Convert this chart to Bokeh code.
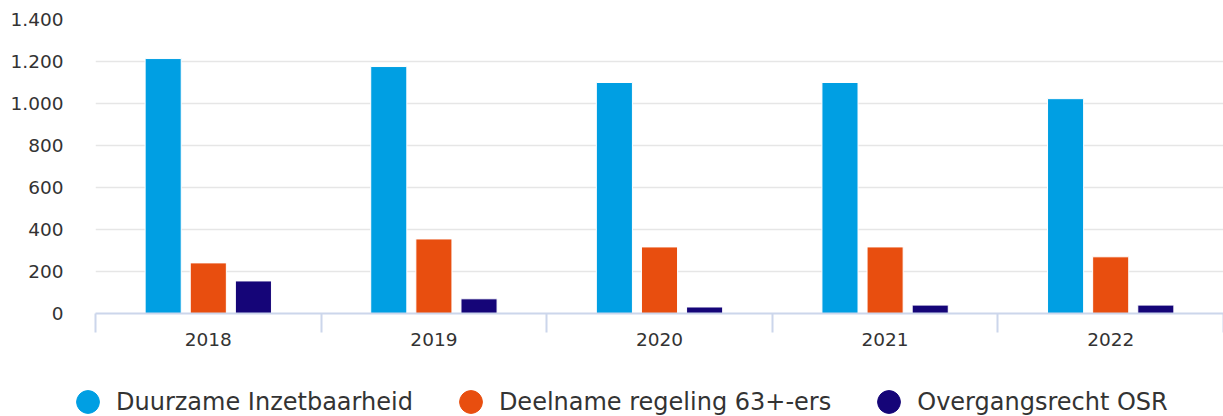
from bokeh.plotting import figure
from bokeh.layouts import column
from bokeh.models import ColumnDataSource, FixedTicker, Legend, LegendItem, Range1d
from bokeh.embed import file_html
from bokeh.resources import INLINE

# ---- data ----
years = ["2018", "2019", "2020", "2021", "2022"]
series_names = ["Duurzame Inzetbaarheid", "Deelname regeling 63+-ers", "Overgangsrecht OSR"]
duurzame = [1214, 1176, 1100, 1100, 1023]
deelname = [241, 355, 317, 317, 270]
overgangsrecht = [155, 70, 31, 40, 40]
colors = ["#009FE3", "#E84E0F", "#150578"]
y_ticks = [0, 200, 400, 600, 800, 1000, 1200, 1400]
y_tick_labels = ["0", "200", "400", "600", "800", "1.000", "1.200", "1.400"]

FONT = "DejaVu Sans"
TEXT = "#333333"

p = figure(width=1223, height=360, output_backend="svg", toolbar_location=None,
           x_range=Range1d(0, len(years)), y_range=Range1d(0, 1400),
           min_border_left=95, min_border_right=0, min_border_top=19, min_border_bottom=47)
p.outline_line_color = None
p.background_fill_color = "white"
p.frame_align = False

# legend-only figure below the chart (no axes); its points lie outside its range
lf = figure(width=1223, height=56, output_backend="svg", toolbar_location=None,
            x_range=Range1d(-10, -9), y_range=Range1d(-10, -9),
            x_axis_location=None, y_axis_location=None,
            min_border_left=0, min_border_right=0, min_border_top=0, min_border_bottom=0)
lf.outline_line_color = None
lf.grid.visible = False
lf.frame_align = False

centers = [i + 0.5 for i in range(len(years))]
offsets = [-0.2, 0.0, 0.2]
items = []
for vals, off, col, name in zip([duurzame, deelname, overgangsrecht], offsets, colors, series_names):
    src = ColumnDataSource(dict(x=[c + off for c in centers], top=vals))
    p.vbar(x="x", top="top", width=0.16, source=src, fill_color=col,
           line_color="white", line_width=1)
    dummy = lf.scatter(x="x", y="top", source=src, marker="circle",
                       fill_color=col, line_color=col)
    items.append(LegendItem(label=name, renderers=[dummy]))

# x axis
xa = p.xaxis[0]
xa.ticker = FixedTicker(ticks=centers, minor_ticks=list(range(len(years) + 1)))
xa.major_label_overrides = {c: y for c, y in zip(centers, years)}
xa.major_tick_line_color = None
xa.major_tick_out = 0
xa.major_tick_in = 0
xa.minor_tick_out = 19
xa.minor_tick_in = 0
xa.minor_tick_line_color = "#ccd6eb"
xa.minor_tick_line_width = 2
xa.axis_line_color = "#ccd6eb"
xa.axis_line_width = 2
xa.major_label_standoff = 0
xa.major_label_text_font = FONT
xa.major_label_text_font_size = "18.5px"
xa.major_label_text_color = TEXT

# y axis
ya = p.yaxis[0]
ya.ticker = FixedTicker(ticks=y_ticks)
ya.major_label_overrides = {t: l for t, l in zip(y_ticks, y_tick_labels)}
ya.axis_line_color = None
ya.major_tick_line_color = None
ya.minor_tick_line_color = None
ya.major_tick_out = 0
ya.major_label_standoff = 32
ya.major_label_text_font = FONT
ya.major_label_text_font_size = "18.5px"
ya.major_label_text_color = TEXT

p.xgrid.visible = False
p.ygrid.ticker = FixedTicker(ticks=y_ticks)
p.ygrid.grid_line_color = "#e6e6e6"
p.ygrid.grid_line_width = 1.5

legend = Legend(items=items, location=(59, -14), orientation="horizontal",
                glyph_width=57, glyph_height=57, label_standoff=0, spacing=29,
                padding=0, margin=0, border_line_color=None, background_fill_alpha=0,
                label_text_font=FONT, label_text_font_size="24px", label_text_color=TEXT)
lf.add_layout(legend, "center")

layout = column(p, lf, spacing=0)
open("out.html", "w").write(file_html(layout, INLINE))
